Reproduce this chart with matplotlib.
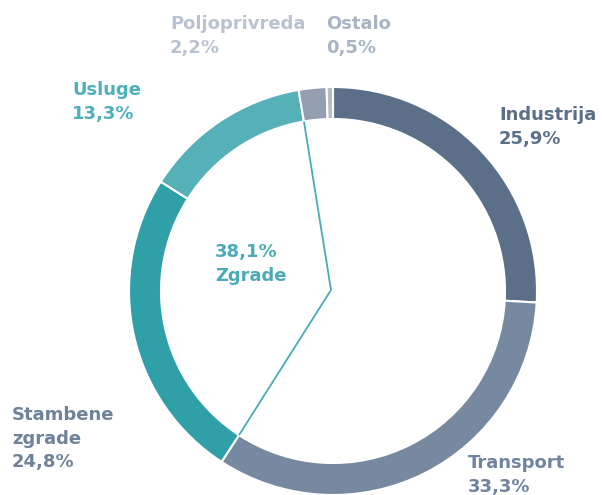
import matplotlib.pyplot as plt
import numpy as np

labels = ['Industrija', 'Transport', 'Stambene\nzgrade', 'Usluge', 'Poljoprivreda', 'Ostalo']
values = [25.9, 33.3, 24.8, 13.3, 2.2, 0.5]
colors = ['#5b7088', '#7789a0', '#2fa0a8', '#56b0b8', '#939fb1', '#b3bcc8']
label_colors = ['#5b7088', '#7084a0', '#6f8299', '#4fb0ba', '#b9c3cf', '#a9b4c3']
label_pos = [(499, 106), (468, 454), (12, 406), (72, 81), (170, 15), (326, 15)]
group_value = 38.1
group_name = 'Zgrade'

W, H = 602, 495
fig = plt.figure(figsize=(W / 100, H / 100), dpi=100)
ax = fig.add_axes([0, 0, 1, 1])
ax.set_xlim(0, W)
ax.set_ylim(0, H)
ax.set_aspect('equal')
ax.axis('off')

cx, cy, R, ring = 333, H - 291, 204, 32
ax.pie(values, colors=colors, startangle=90, counterclock=False,
       center=(cx, cy), radius=R,
       wedgeprops=dict(width=ring, edgecolor='white', linewidth=1.5))
ax.set_xlim(0, W)
ax.set_ylim(0, H)

# lines outlining the "Zgrade" group (Stambene + Usluge)
cum = np.cumsum([0] + values) / sum(values)
r_in = R - ring
for frac in (cum[2], cum[4]):
    ang = np.deg2rad(90 - frac * 360)
    ax.plot([cx - 2, cx + r_in * np.cos(ang)], [cy + 1, cy + r_in * np.sin(ang)],
            color='#4aabb5', lw=1.3, solid_capstyle='butt')

for lab, val, c, (x, y) in zip(labels, values, label_colors, label_pos):
    ax.text(x, H - y, f'{lab}\n{val:.1f}%'.replace('.', ','), color=c,
            fontsize=13, fontweight='bold', ha='left', va='top',
            linespacing=1.4, family='DejaVu Sans')

ax.text(215, H - 243, f'{group_value:.1f}%\n{group_name}'.replace('.', ','),
        color='#4aabb5', fontsize=13, fontweight='bold', ha='left', va='top',
        linespacing=1.4, family='DejaVu Sans')

fig.savefig('out.png', dpi=100)
